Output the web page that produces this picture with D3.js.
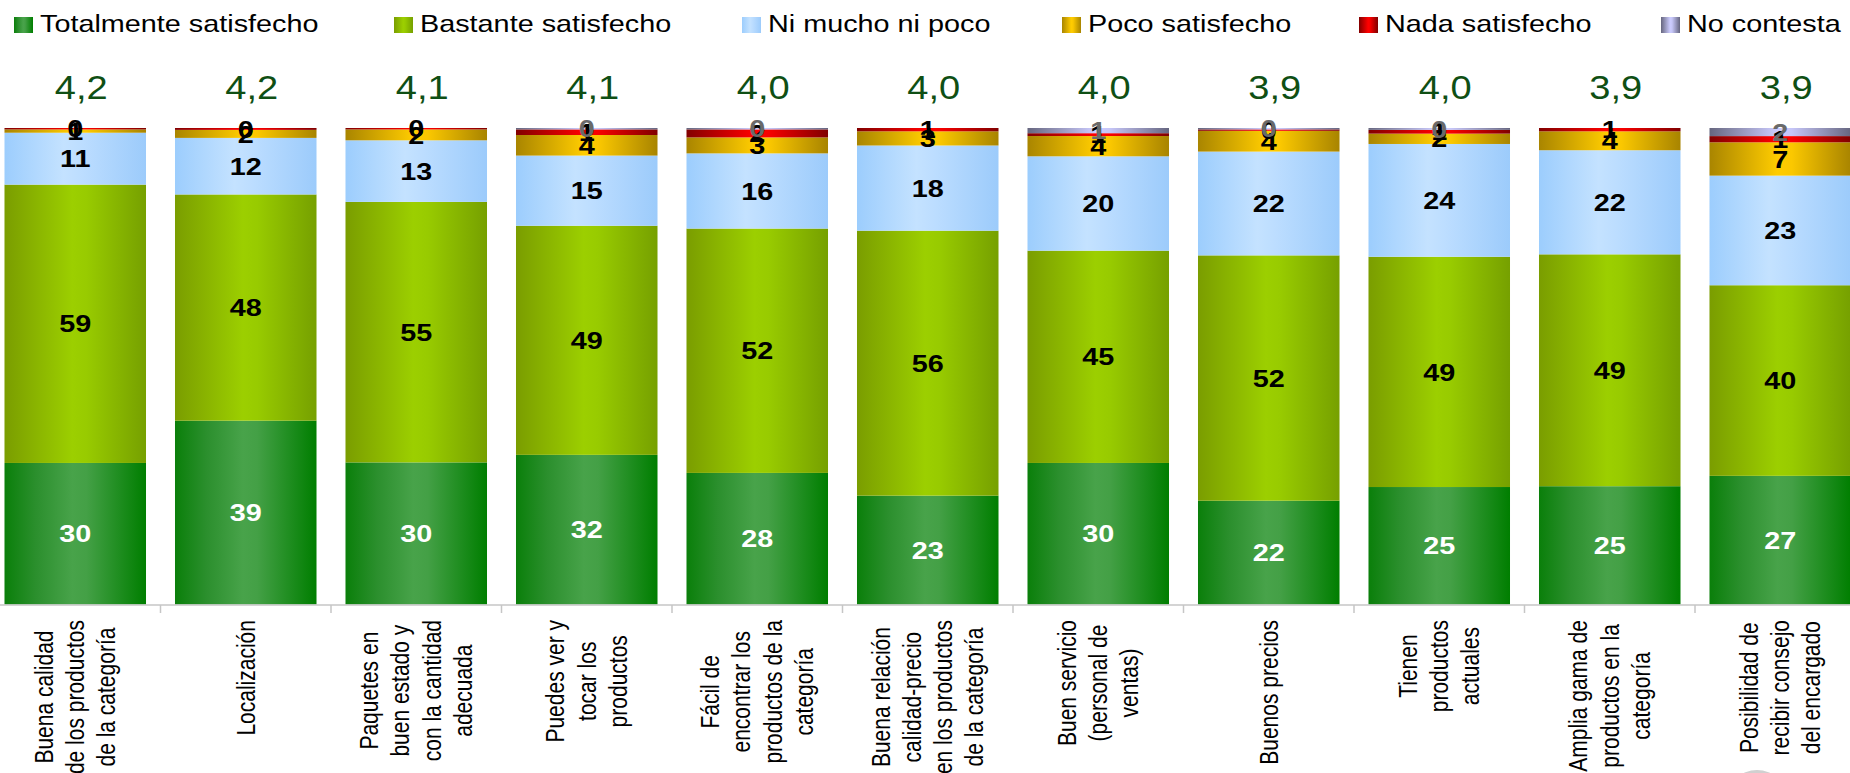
<!DOCTYPE html>
<html>
<head>
<meta charset="utf-8">
<script src="https://cdn.jsdelivr.net/npm/d3@7"></script>
<style>
  html, body { margin: 0; padding: 0; background: #fff; }
  svg { display: block; font-family: "Liberation Sans", Arial, sans-serif; }
</style>
</head>
<body>
<svg id="chart" width="1850" height="773"></svg>
<script>
// Satisfaction by attribute (percent of respondents per answer)
const categories = [
  ["Buena calidad", "de los productos", "de la categoría"],
  ["Localización"],
  ["Paquetes en", "buen estado y", "con la cantidad", "adecuada"],
  ["Puedes ver y", "tocar los", "productos"],
  ["Fácil de", "encontrar los", "productos de la", "categoría"],
  ["Buena relación", "calidad-precio", "en los productos", "de la categoría"],
  ["Buen servicio", "(personal de", "ventas)"],
  ["Buenos precios"],
  ["Tienen", "productos", "actuales"],
  ["Amplia gama de", "productos en la", "categoría"],
  ["Posibilidad de", "recibir consejo", "del encargado"]
];
const seriesNames = ["Totalmente satisfecho", "Bastante satisfecho", "Ni mucho ni poco",
                     "Poco satisfecho", "Nada satisfecho", "No contesta"];
const totalmente = [30, 39, 30, 32, 28, 23, 30, 22, 25, 25, 27];
const bastante   = [59, 48, 55, 49, 52, 56, 45, 52, 49, 49, 40];
const niMucho    = [11, 12, 13, 15, 16, 18, 20, 22, 24, 22, 23];
const poco       = [0.7, 1.7, 2.3, 4.4, 3.4, 3, 4.3, 4.4, 2.2, 4, 7];
const nada       = [0.3, 0.4, 0.3, 1.2, 1.7, 0.7, 0.6, 0.3, 0.8, 0.7, 1.3];
const noContesta = [0, 0, 0, 0.3, 0.3, 0, 1.1, 0.3, 0.4, 0, 1.7];
const meanScores = ["4,2", "4,2", "4,1", "4,1", "4,0", "4,0", "4,0", "3,9", "4,0", "3,9", "3,9"];

// Horizontal gradients (dark edges, light centre) per answer
const gradients = [
  [["0%", "#0a7f0a"], ["22%", "#2b8f2d"], ["48%", "#48a34a"], ["58%", "#44a046"], ["100%", "#007e00"]],
  [["0%", "#7a9d00"], ["48%", "#9ccf00"], ["58%", "#98cb00"], ["100%", "#76a000"]],
  [["0%", "#9ccdfd"], ["42%", "#c4e2ff"], ["55%", "#bcddff"], ["100%", "#9ccbfb"]],
  [["0%", "#a98500"], ["48%", "#ffcc00"], ["58%", "#fbc800"], ["100%", "#a88400"]],
  [["0%", "#820000"], ["48%", "#ff0000"], ["58%", "#f80000"], ["100%", "#800000"]],
  [["0%", "#66667f"], ["48%", "#ccccff"], ["58%", "#c6c6f8"], ["100%", "#666680"]]
];
const labelColors = ["#ffffff", "#000000", "#000000", "#000000", "#000000", "#6a6a6a"];
const stretch = 1.2;
// Legend swatch positions along the top row
const legendX = [14, 394, 742, 1062, 1359, 1661];

const svg = d3.select("#chart");
const defs = svg.append("defs");
gradients.forEach((stops, i) => {
  const g = defs.append("linearGradient").attr("id", "grad" + i)
    .attr("x1", "0%").attr("x2", "100%").attr("y1", "0%").attr("y2", "0%");
  stops.forEach(s => g.append("stop").attr("offset", s[0]).attr("stop-color", s[1]));
});

const seriesArrays = [totalmente, bastante, niMucho, poco, nada, noContesta];
const rows = categories.map((c, i) => {
  const r = { idx: i };
  seriesNames.forEach((s, k) => r[s] = seriesArrays[k][i]);
  return r;
});

const x = d3.scaleBand().domain(d3.range(categories.length))
  .range([-10, 1865.5]).paddingInner(0.17).paddingOuter(0.085);
const y = d3.scaleLinear().domain([0, 1]).range([604.5, 128]);

const stack = d3.stack().keys(seriesNames).offset(d3.stackOffsetExpand);
const layers = stack(rows);

// Stacked bars
const layerG = svg.append("g").selectAll("g").data(layers).join("g")
  .attr("fill", (d, i) => `url(#grad${i})`);
layerG.selectAll("rect").data(d => d).join("rect")
  .attr("x", d => x(d.data.idx))
  .attr("width", x.bandwidth())
  .attr("y", d => y(d[1]))
  .attr("height", d => Math.max(0, y(d[0]) - y(d[1])));

// X axis baseline and ticks at band boundaries
const axisY = 605;
svg.append("line").attr("x1", 0).attr("x2", 1850).attr("y1", axisY).attr("y2", axisY)
  .attr("stroke", "#c6c6c6").attr("stroke-width", 1.5);
const step = x.step();
const bandStart = x.range()[0];
svg.append("g").selectAll("line").data(d3.range(1, categories.length)).join("line")
  .attr("x1", k => bandStart + k * step).attr("x2", k => bandStart + k * step)
  .attr("y1", axisY).attr("y2", axisY + 8)
  .attr("stroke", "#c6c6c6").attr("stroke-width", 1.5);

// Segment value labels
const fmt = d3.format(".0f");
layers.forEach((layer, i) => {
  svg.append("g").selectAll("g").data(layer.filter(d => d.data[seriesNames[i]] > 0)).join("g")
    .attr("transform", d => `translate(${x(d.data.idx) + x.bandwidth() / 2},${(y(d[0]) + y(d[1])) / 2}) scale(${stretch},1)`)
    .append("text")
    .attr("text-anchor", "middle").attr("dy", "0.36em")
    .attr("font-size", 24).attr("font-weight", "bold")
    .attr("fill", labelColors[i])
    .text(d => fmt(d.data[seriesNames[i]]));
});

// Mean score above each bar
svg.append("g").selectAll("g").data(meanScores).join("g")
  .attr("transform", (d, i) => `translate(${x(i) + x.bandwidth() / 2 + 6},99) scale(1.12,1)`)
  .append("text")
  .attr("text-anchor", "middle").attr("font-size", 34).attr("fill", "#0f4f14")
  .text(d => d);

// Rotated, multi-line category labels
const lineGap = 26;
const catG = svg.append("g").selectAll("g").data(categories).join("g");
catG.each(function (lines, i) {
  const g = d3.select(this);
  const t = g.selectAll("text").data(lines).join("text")
    .attr("text-anchor", "middle")
    .attr("font-size", 21)
    .attr("fill", "#000")
    .attr("x", 0)
    .attr("y", (d, j) => (j - (lines.length - 1) / 2) * lineGap)
    .attr("dy", "0.35em")
    .text(d => d);
  let maxLen = 0;
  t.each(function () { maxLen = Math.max(maxLen, this.getComputedTextLength()); });
  g.attr("transform", `translate(${x(i) + x.bandwidth() / 2},${620 + maxLen / 2}) scale(${stretch},1) rotate(-90)`);
});

// Legend
const legend = svg.append("g");
seriesNames.forEach((name, i) => {
  const lx = legendX[i];
  legend.append("rect").attr("x", lx).attr("y", 17).attr("width", 19).attr("height", 16)
    .attr("fill", `url(#grad${i})`);
  legend.append("g").attr("transform", `translate(${lx + 26},32) scale(${stretch},1)`)
    .append("text").attr("font-size", 24).attr("fill", "#000").text(name);
});

// Partial grey disc at the bottom edge
svg.append("ellipse").attr("cx", 1757).attr("cy", 800).attr("rx", 30).attr("ry", 30)
  .attr("fill", "#d0d0d0");
</script>
</body>
</html>
